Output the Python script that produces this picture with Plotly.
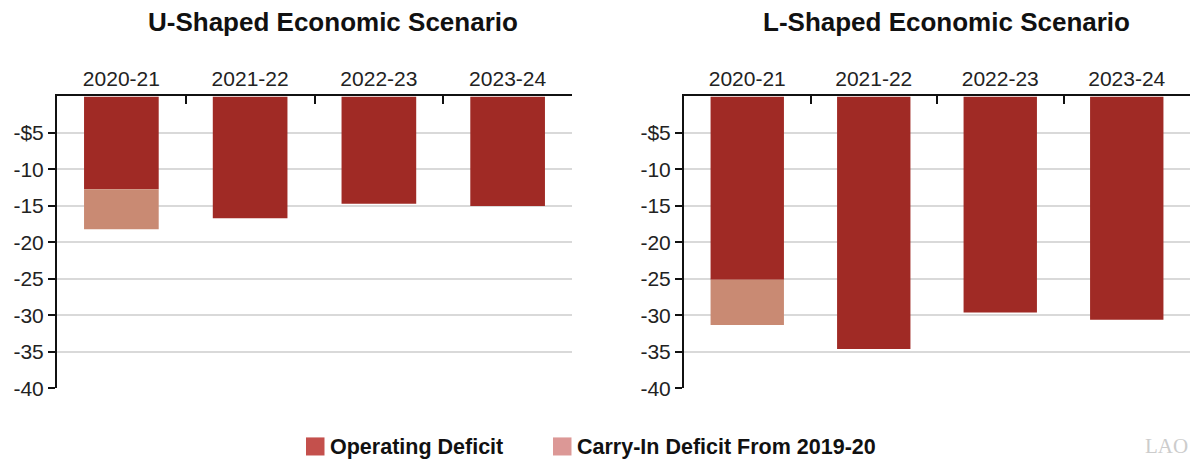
import plotly.graph_objects as go

# Fiscal years shown on both panels
years = ["2020-21", "2021-22", "2022-23", "2023-24"]

# Budget deficits, in billions of dollars
u_operating = [-12.7, -16.7, -14.7, -15.0]
u_carry_in = [-5.5, 0, 0, 0]
l_operating = [-25.1, -34.6, -29.6, -30.6]
l_carry_in = [-6.2, 0, 0, 0]

y_tick_vals = [-5, -10, -15, -20, -25, -30, -35, -40]
y_tick_text = ["-$5", "-10", "-15", "-20", "-25", "-30", "-35", "-40"]

panel_titles = ["U-Shaped Economic Scenario", "L-Shaped Economic Scenario"]
legend_names = ["Operating Deficit", "Carry-In Deficit From 2019-20"]

OPERATING = "#a02a25"
CARRY_IN = "#c98a73"
LEGEND_OPERATING = "#c4504c"
LEGEND_CARRY_IN = "#dc9896"

W, H = 1193, 466
FONT = "Liberation Sans, Arial, Helvetica, sans-serif"


def py(px):
    """Convert a pixel row measured from the top into paper coordinates."""
    return 1 - px / H


fig = go.Figure()

panels = [("x", "y", u_operating, u_carry_in), ("x2", "y2", l_operating, l_carry_in)]
for xa, ya, op, carry in panels:
    fig.add_trace(go.Bar(x=years, y=op, xaxis=xa, yaxis=ya, width=0.58,
                         marker=dict(color=OPERATING, line=dict(width=0)),
                         showlegend=False, hoverinfo="y"))
    fig.add_trace(go.Bar(x=years, y=carry, xaxis=xa, yaxis=ya, width=0.58,
                         marker=dict(color=CARRY_IN, line=dict(width=0)),
                         showlegend=False, hoverinfo="y"))

top, bottom = py(98.8), py(397.8)
domains = [(57 / W, 572 / W), (684 / W, 1190 / W)]
title_centers = [333 / W, 946.5 / W]

axis_common = dict(
    type="category", side="top", showline=True, linecolor="#111", linewidth=2,
    ticks="inside", ticklen=8, tickwidth=2, tickcolor="#111", tickson="boundaries",
    tickfont=dict(family=FONT, size=21, color="#222"), showgrid=False,
    fixedrange=True,
)
yaxis_common = dict(
    range=[-40, 0], tickmode="array", tickvals=y_tick_vals, ticktext=y_tick_text,
    showline=True, linecolor="#111", linewidth=2, ticks="outside", ticklen=7,
    tickwidth=2, tickcolor="#111", showgrid=True, gridcolor="#d9d9d9", gridwidth=1.5,
    zeroline=False, tickfont=dict(family=FONT, size=21, color="#222"),
    domain=[bottom, top], fixedrange=True,
)

fig.update_layout(
    width=W, height=H, margin=dict(l=0, r=0, t=0, b=0),
    paper_bgcolor="white", plot_bgcolor="white", barmode="relative",
    showlegend=False,
    xaxis=dict(axis_common, domain=list(domains[0]), anchor="y"),
    yaxis=dict(yaxis_common, anchor="x"),
    xaxis2=dict(axis_common, domain=list(domains[1]), anchor="y2"),
    yaxis2=dict(yaxis_common, anchor="x2"),
)

# Panel titles
for cx, title in zip(title_centers, panel_titles):
    fig.add_annotation(x=cx, y=py(22.8), xref="paper", yref="paper",
                       text=f"<b>{title}</b>", showarrow=False, xanchor="center",
                       yanchor="middle", font=dict(family=FONT, size=26, color="#111"))

# Legend: coloured squares with bold labels
legend_items = [(306, LEGEND_OPERATING, legend_names[0]), (553, LEGEND_CARRY_IN, legend_names[1])]
for x0, color, name in legend_items:
    fig.add_shape(type="rect", xref="paper", yref="paper",
                  x0=x0 / W, x1=(x0 + 18.5) / W, y0=py(466.5), y1=py(448),
                  fillcolor=color, line=dict(width=0))
    fig.add_annotation(x=(x0 + 22) / W, y=py(457.5), xref="paper", yref="paper",
                       text=f"<b>{name}</b>", showarrow=False, xanchor="left",
                       yanchor="middle", font=dict(family=FONT, size=21.5, color="#111"))

# Publisher mark
fig.add_annotation(x=1190 / W, y=py(456.5), xref="paper", yref="paper", text="LAO",
                   showarrow=False, xanchor="right", yanchor="middle",
                   font=dict(family="Liberation Serif, DejaVu Serif, serif", size=21,
                             color="#cccccc"))

fig.write_html("out.html")
